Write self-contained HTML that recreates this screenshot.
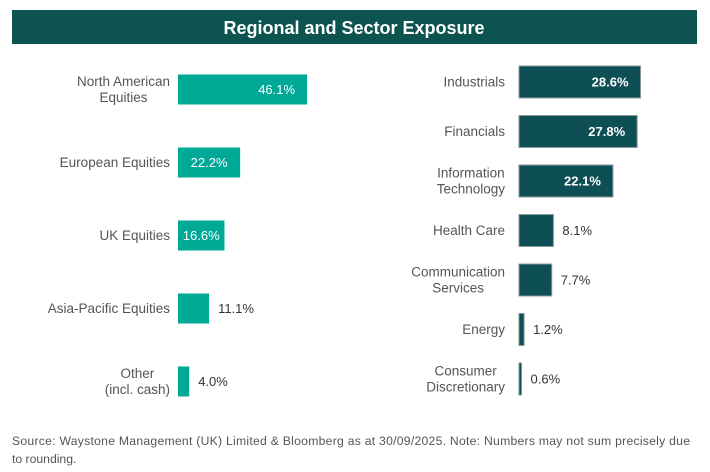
<!DOCTYPE html>
<html><head><meta charset="utf-8"><style>
body{margin:0;background:#fff;width:710px;height:467px;overflow:hidden;font-family:"Liberation Sans",sans-serif;}
svg text{font-family:"Liberation Sans",sans-serif;}
</style></head><body>
<svg id="c" width="710" height="467">
<rect x="12" y="10" width="685" height="34" fill="#0d5350"/>
<text x="354" y="34" fill="#fff" font-size="18" font-weight="bold" text-anchor="middle">Regional and Sector Exposure</text>
<g id="L"></g><g id="R"></g>
<text x="12" y="445" fill="#555" font-size="12.2" textLength="678">Source: Waystone Management (UK) Limited &amp; Bloomberg as at 30/09/2025. Note: Numbers may not sum precisely due</text>
<text x="12" y="463" fill="#555" font-size="12.2">to rounding.</text>
</svg>
<script>
const regionLabels=[["North American","Equities"],["European Equities"],["UK Equities"],["Asia-Pacific Equities"],["Other","(incl. cash)"]];
const regionValues=[46.1,22.2,16.6,11.1,4.0];
const sectorLabels=[["Industrials"],["Financials"],["Information","Technology"],["Health Care"],["Communication","Services"],["Energy"],["Consumer","Discretionary"]];
const sectorValues=[28.6,27.8,22.1,8.1,7.7,1.2,0.6];
const NS="http://www.w3.org/2000/svg";
function mk(t,a,p){const e=document.createElementNS(NS,t);for(const k in a)e.setAttribute(k,a[k]);p.appendChild(e);return e;}
function draw(g,labels,vals,x0,scale,y0,step,h,fill,stroke,inMin,labX,pref){
 vals.forEach((v,i)=>{
  const cy=y0+i*step,w=v*scale;
  const r=mk('rect',{x:x0,y:cy-h/2,width:Math.max(w,1.5),height:h,fill:fill},g);
  if(stroke){r.setAttribute('stroke',stroke);r.setAttribute('stroke-width','1');}
  
  
  const inside=v>=inMin;
  let tx,anc;
  if(!inside){tx=x0+w+9;anc='start';}
  else if(w<70){tx=x0+w/2;anc='middle';}
  else{tx=x0+w-12;anc='end';}
  const t=mk('text',{x:tx,y:cy+4.5,'font-size':13,fill:inside?'#fff':'#333','text-anchor':anc,'font-weight':inside&&pref==='sector'?'bold':'normal'},g);
  t.textContent=v.toFixed(1)+'%';
  
  
  const ls=labels[i];
  const els=ls.map((s,j)=>{
   const l=mk('text',{x:labX,y:cy+4.5+(j-(ls.length-1)/2)*16,'font-size':13.5,fill:'#555','text-anchor':'middle'},g);
   l.textContent=s;
   
   
   return l;
  });
  const mw=Math.max(...els.map(e=>e.getComputedTextLength()));
  els.forEach(e=>e.setAttribute('x',labX-mw/2));
 });
}
draw(document.getElementById('L'),regionLabels,regionValues,178,2.8,89.5,73,30,'#00a896',null,15,170,'region');
draw(document.getElementById('R'),sectorLabels,sectorValues,519,4.25,82,49.5,32,'#0e4f55','#8a9a9a',20,505,'sector');
</script>
</body></html>
